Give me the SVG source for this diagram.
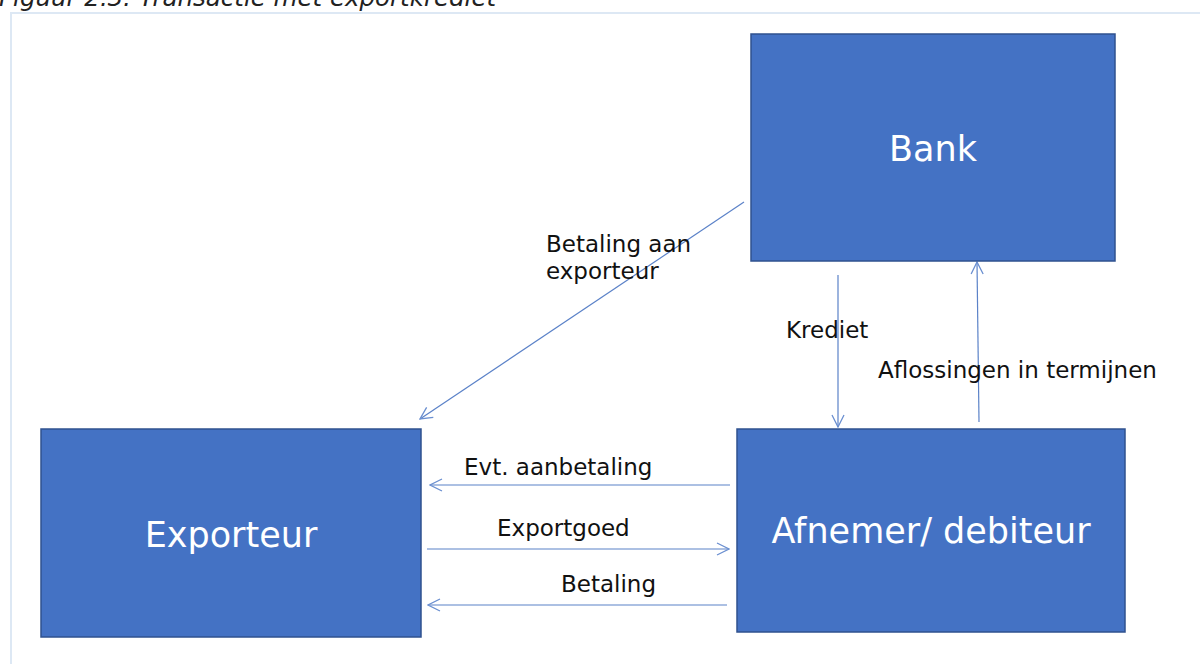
<svg xmlns="http://www.w3.org/2000/svg" width="1200" height="664" viewBox="0 0 1200 664">
<style>
.node{fill:#4472c4;stroke:#2f528f;stroke-width:1.5}
.nl{font-family:"DejaVu Sans","Liberation Sans",sans-serif;font-size:35px;fill:#ffffff;text-anchor:middle}
.el{font-family:"DejaVu Sans","Liberation Sans",sans-serif;font-size:23px;fill:#111111}
.con{stroke:#5b82c8;stroke-width:1.2;fill:none;marker-end:url(#arr)}
.cap{font-family:"DejaVu Sans","Liberation Sans",sans-serif;font-size:24.5px;font-style:italic;fill:#222222}
</style>
<defs>
<marker id="arr" viewBox="0 0 14 14" refX="13" refY="7" markerWidth="14" markerHeight="14" markerUnits="userSpaceOnUse" orient="auto">
<path d="M1,1 L13,7 L1,13" fill="none" stroke="#6a8fd0" stroke-width="1.3"/>
</marker>
</defs>
<rect width="1200" height="664" fill="#ffffff"/>
<text class="cap" x="-1" y="6">Figuur 2.3: Transactie met exportkrediet</text>
<path d="M11,664 L11,13 L1200,13" fill="none" stroke="#dde8f4" stroke-width="2"/>
<g id="connectors">
<line class="con" x1="744" y1="202" x2="420" y2="419"/>
<line class="con" x1="838" y1="275" x2="838" y2="427"/>
<line class="con" x1="979" y1="422" x2="977" y2="262"/>
<line class="con" x1="730" y1="485" x2="430" y2="485"/>
<line class="con" x1="427" y1="549" x2="729" y2="549"/>
<line class="con" x1="727" y1="605" x2="428" y2="605"/>
<text class="el" x="546" y="252">Betaling aan</text>
<text class="el" x="546" y="279">exporteur</text>
<text class="el" x="786" y="338">Krediet</text>
<text class="el" x="878" y="378">Aflossingen in termijnen</text>
<text class="el" x="464" y="475">Evt. aanbetaling</text>
<text class="el" x="497" y="536">Exportgoed</text>
<text class="el" x="561" y="592">Betaling</text>
</g>
<g id="bank">
<rect class="node" x="751" y="34" width="364" height="227"/>
<text class="nl" x="933" y="161">Bank</text>
</g>
<g id="exporteur">
<rect class="node" x="41" y="429" width="380" height="208"/>
<text class="nl" x="231" y="547">Exporteur</text>
</g>
<g id="afnemer">
<rect class="node" x="737" y="429" width="388" height="203"/>
<text class="nl" x="931" y="543">Afnemer/ debiteur</text>
</g>
</svg>
